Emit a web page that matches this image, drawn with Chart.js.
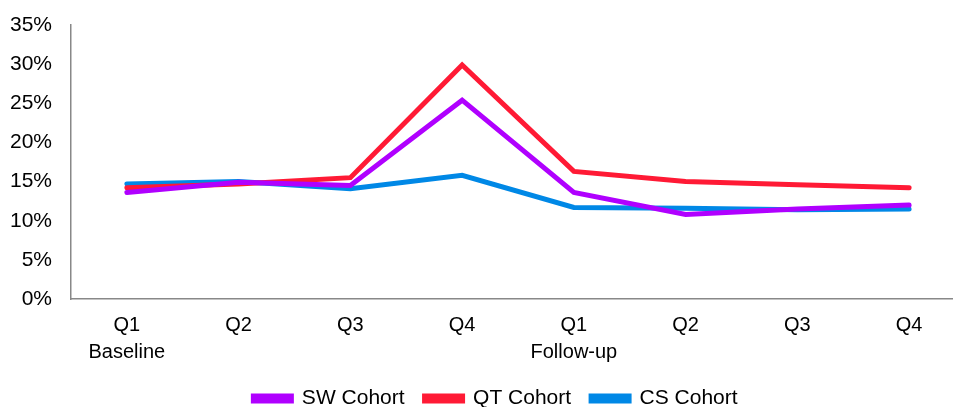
<!DOCTYPE html>
<html>
<head>
<meta charset="utf-8">
<script src="https://cdn.jsdelivr.net/npm/chart.js@4"></script>
<style>
  html, body { margin: 0; padding: 0; background: #fff; overflow: hidden; }
  #wrap { width: 966px; height: 407px; }
</style>
</head>
<body>
<div id="wrap"><canvas id="lineChart"></canvas></div>
<script>
var quarters = [['Q1', 'Baseline'], 'Q2', 'Q3', 'Q4', ['Q1', 'Follow-up'], 'Q2', 'Q3', 'Q4'];
var swCohort = [13.6, 14.9, 14.5, 25.4, 13.6, 10.8, 11.5, 12.0];
var qtCohort = [14.2, 14.7, 15.5, 29.9, 16.3, 15.0, 14.6, 14.2];
var csCohort = [14.7, 15.0, 14.1, 15.8, 11.7, 11.6, 11.4, 11.5];
var yTicks = [0, 5, 10, 15, 20, 25, 30, 35];

document.addEventListener("DOMContentLoaded", function() {
    var font = 'Arial, "Liberation Sans", sans-serif';

    // nudge the legend a bit to the right, like the original
    var legendShift = {
        id: 'legendShift',
        afterUpdate: function(chart) {
            var lg = chart.legend;
            lg.left += 13;
            lg.right += 13;
            (lg.legendHitBoxes || []).forEach(function(h) { h.left += 13; });
        }
    };

    var ctx = document.getElementById('lineChart').getContext('2d');
    var chart = new Chart(ctx, {
        type: 'line',
        data: {
            labels: quarters,
            datasets: [
                { label: 'SW Cohort', data: swCohort, borderColor: '#B000FF', backgroundColor: '#B000FF' },
                { label: 'QT Cohort', data: qtCohort, borderColor: '#FF1A35', backgroundColor: '#FF1A35' },
                { label: 'CS Cohort', data: csCohort, borderColor: '#0088E6', backgroundColor: '#0088E6' }
            ]
        },
        plugins: [legendShift],
        options: {
            responsive: true,
            maintainAspectRatio: false,
            animation: false,
            layout: { padding: { left: 0, right: 1, top: 25, bottom: -12 } },
            elements: {
                line: { borderWidth: 5, tension: 0, borderCapStyle: 'round', borderJoinStyle: 'miter' },
                point: { radius: 0, hoverRadius: 0 }
            },
            plugins: {
                tooltip: { enabled: false },
                legend: {
                    position: 'bottom',
                    labels: {
                        color: '#000',
                        font: { family: font, size: 21 },
                        boxWidth: 38,
                        boxHeight: 5,
                        padding: 20
                    }
                }
            },
            scales: {
                x: {
                    offset: true,
                    afterFit: function(scale) { scale.height = 69; },
                    grid: { display: false, drawTicks: false },
                    border: { display: true, color: '#888', width: 1.5 },
                    ticks: {
                        color: '#000',
                        font: { family: font, size: 20, lineHeight: 1.35 },
                        padding: 13,
                        maxRotation: 0,
                        autoSkip: false
                    }
                },
                y: {
                    min: 0,
                    max: 35,
                    afterBuildTicks: function(axis) {
                        axis.ticks = yTicks.map(function(v) { return { value: v }; });
                    },
                    afterFit: function(scale) {
                        scale.width = 71;
                        scale.paddingTop = 0;
                    },
                    grid: { display: false, drawTicks: false },
                    border: { display: true, color: '#888', width: 1.5 },
                    ticks: {
                        color: '#000',
                        font: { family: font, size: 21 },
                        padding: 19,
                        callback: function(v) { return v + '%'; }
                    }
                }
            }
        }
    });
});
</script>
</body>
</html>
